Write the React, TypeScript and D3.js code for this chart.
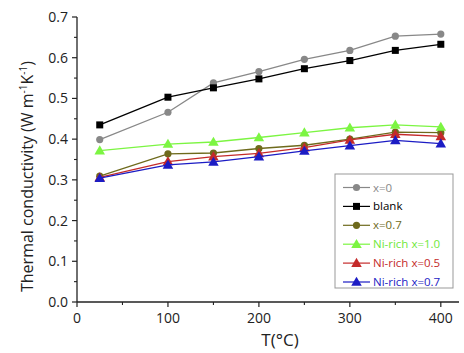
import React from "react";
import * as d3 from "d3";

const temps = [25, 100, 150, 200, 250, 300, 350, 400];
const seriesNames = ["x=0", "blank", "x=0.7", "Ni-rich x=1.0", "Ni-rich x=0.5", "Ni-rich x=0.7"];
const x0 = [0.399, 0.466, 0.538, 0.566, 0.596, 0.618, 0.653, 0.658];
const blank = [0.435, 0.503, 0.526, 0.548, 0.573, 0.593, 0.618, 0.633];
const x07 = [0.309, 0.364, 0.366, 0.377, 0.385, 0.400, 0.417, 0.416];
const niX10 = [0.372, 0.388, 0.393, 0.404, 0.416, 0.428, 0.435, 0.430];
const niX05 = [0.306, 0.345, 0.357, 0.365, 0.379, 0.398, 0.412, 0.407];
const niX07 = [0.304, 0.337, 0.344, 0.357, 0.371, 0.384, 0.397, 0.389];
const xTicks = [0, 100, 200, 300, 400];
const yTicks = [0, 0.1, 0.2, 0.3, 0.4, 0.5, 0.6, 0.7];

const seriesValues = [x0, blank, x07, niX10, niX05, niX07];
const colors = ["#888888", "#000000", "#6e6a1c", "#7cf542", "#c42a2a", "#1c1cc4"];
const shapes = ["circle", "square", "circle", "triangle", "triangle", "triangle"];

const W = 464, H = 353;
const m = { left: 77, right: 5, top: 17, bottom: 51 };

function Marker({ shape, x, y, color }: { shape: string; x: number; y: number; color: string }) {
  if (shape === "circle") return <circle cx={x} cy={y} r={3.6} fill={color} />;
  if (shape === "square") return <rect x={x - 3.5} y={y - 3.5} width={7} height={7} fill={color} />;
  const s = d3.symbol().type(d3.symbolTriangle).size(48)();
  return <path d={s || ""} transform={`translate(${x},${y + 0.8})`} fill={color} />;
}

export default function App() {
  const x = d3.scaleLinear().domain([0, 420]).range([m.left, W - m.right]);
  const y = d3.scaleLinear().domain([0, 0.7]).range([H - m.bottom, m.top]);
  const line = d3.line<number>().x((_, i) => x(temps[i])).y((d) => y(d));
  const font = "'Open Sans', sans-serif";
  const x0p = x(0), y0p = y(0);
  const minorX = d3.range(50, 420, 100);
  const minorY = d3.range(0.05, 0.7, 0.1);
  const legX = 335, legY = 174, legW = 118, legH = 114, rowH = 18.9;

  return (
    <svg width={W} height={H} style={{ position: "absolute", left: 0, top: 0, background: "#fff" }} fontFamily={font}>
      {seriesValues.map((vals, si) => (
        <g key={si}>
          <path d={line(vals) || ""} fill="none" stroke={colors[si]} strokeWidth={1.3} />
          {vals.map((v, i) => (
            <Marker key={i} shape={shapes[si]} x={x(temps[i])} y={y(v)} color={colors[si]} />
          ))}
        </g>
      ))}
      {/* axes */}
      <line x1={x0p} x2={x0p} y1={y(0.7)} y2={y0p} stroke="#222" strokeWidth={1.3} />
      <line x1={x0p} x2={W - m.right} y1={y0p} y2={y0p} stroke="#222" strokeWidth={1.3} />
      {xTicks.map((t) => (
        <g key={t}>
          <line x1={x(t)} x2={x(t)} y1={y0p} y2={y0p + 5} stroke="#222" strokeWidth={1.2} />
          <text x={x(t)} y={y0p + 21} textAnchor="middle" fontSize={14} fill="#222">{t}</text>
        </g>
      ))}
      {minorX.map((t) => (
        <line key={t} x1={x(t)} x2={x(t)} y1={y0p} y2={y0p + 3} stroke="#222" strokeWidth={1.1} />
      ))}
      {yTicks.map((t) => (
        <g key={t}>
          <line x1={x0p - 5} x2={x0p} y1={y(t)} y2={y(t)} stroke="#222" strokeWidth={1.2} />
          <text x={x0p - 9} y={y(t) + 5} textAnchor="end" fontSize={14} fill="#222">{t.toFixed(1)}</text>
        </g>
      ))}
      {minorY.map((t, i) => (
        <line key={i} x1={x0p - 3} x2={x0p} y1={y(t)} y2={y(t)} stroke="#222" strokeWidth={1.1} />
      ))}
      <text x={280} y={346} textAnchor="middle" fontSize={17} fill="#222">T(°C)</text>
      <text transform={`translate(33,292) rotate(-90)`} textAnchor="start" fontSize={16} fill="#222">
        Thermal conductivity (W m<tspan dy={-6} fontSize={10}>-1</tspan><tspan dy={6}>K</tspan><tspan dy={-6} fontSize={10}>-1</tspan><tspan dy={6}>)</tspan>
      </text>
      {/* legend */}
      <rect x={legX} y={legY} width={legW} height={legH} fill="#fff" stroke="#999" strokeWidth={1} />
      {seriesNames.map((n, i) => {
        const cy = legY + 13.5 + i * rowH;
        return (
          <g key={n}>
            <line x1={legX + 8} x2={legX + 35} y1={cy} y2={cy} stroke={colors[i]} strokeWidth={1.2} />
            <Marker shape={shapes[i]} x={legX + 21.5} y={cy} color={colors[i]} />
            <text x={legX + 38} y={cy + 4} fontSize={11.5} fill={colors[i] === "#7cf542" ? "#6fe83a" : colors[i]}>{n}</text>
          </g>
        );
      })}
    </svg>
  );
}
